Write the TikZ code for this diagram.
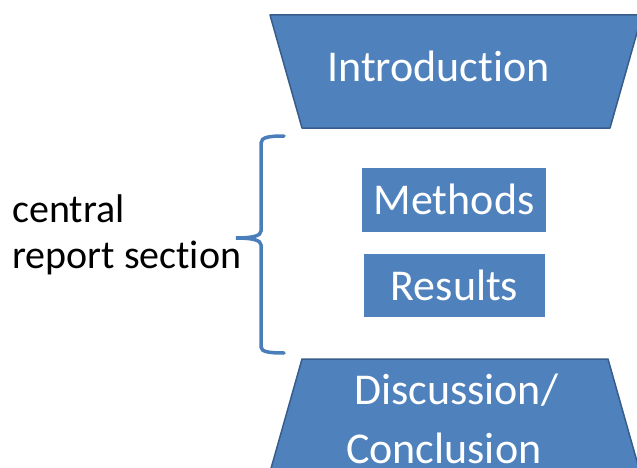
\documentclass[tikz,border=0pt]{standalone}
\usepackage{fontspec}
\setmainfont{Carlito}[Ligatures=NoCommon]
\usepackage{tikz}
\definecolor{secfill}{HTML}{4F81BD}
\definecolor{secline}{HTML}{385D8A}
\definecolor{bracecol}{HTML}{4A7EBB}
\tikzstyle{part} = [fill=secfill, draw=secline, line width=1.5pt, line join=round]
\tikzstyle{partlabel} = [text=white, font=\fontsize{44}{59}\selectfont, inner sep=0pt, align=left]
\tikzset{
  sectbox/.style ={fill=secfill, text=white, font=\fontsize{44}{50}\selectfont, inner xsep=0pt, inner ysep=0pt, text height=46pt}
}

\begin{document}
\begin{tikzpicture}[x=1pt,y=1pt]
	\clip (0,0) rectangle (637,467);
	\fill[white] (0,0) rectangle (637,467);
	\filldraw[part] (270,452) -- (642,452) -- (610,339) -- (302,339) -- cycle;
	\node[partlabel, anchor=base] (intro) at (438.5,385) {Introduction};
	\node[sectbox, minimum width=184pt, text depth=18pt, anchor=base] (methods) at (454,253) {Methods};
	\node[sectbox, minimum width=181pt, text depth=17pt, anchor=base] (results) at (454.5,167) {Results};
	\filldraw[part] (302,108) -- (608,108) -- (640,-5) -- (270,-5) -- cycle;
	\node[partlabel, text depth=0pt, anchor=base west] (discussion) at (346,4) {\hspace*{8pt}Discussion/\\Conclusion};
	\node[font=\fontsize{40}{46}\selectfont, align=left, inner sep=0pt, anchor=base west] (central) at (12,199) {central\\report section};
	\coordinate (bracetop) at (284,331);
	\coordinate (bracetip) at (236,229);
	\coordinate (bracebot) at (284,114);
	\draw[color=bracecol, line width=3.5pt, line cap=round] (bracetop) .. controls (270,331) and (261,330) .. (261,324) -- (261,236) .. controls (261,231) and (252,229) .. (bracetip) .. controls (252,229) and (261,227) .. (261,222) -- (261,120) .. controls (261,115) and (270,114) .. (bracebot);

\end{tikzpicture}
\end{document}
